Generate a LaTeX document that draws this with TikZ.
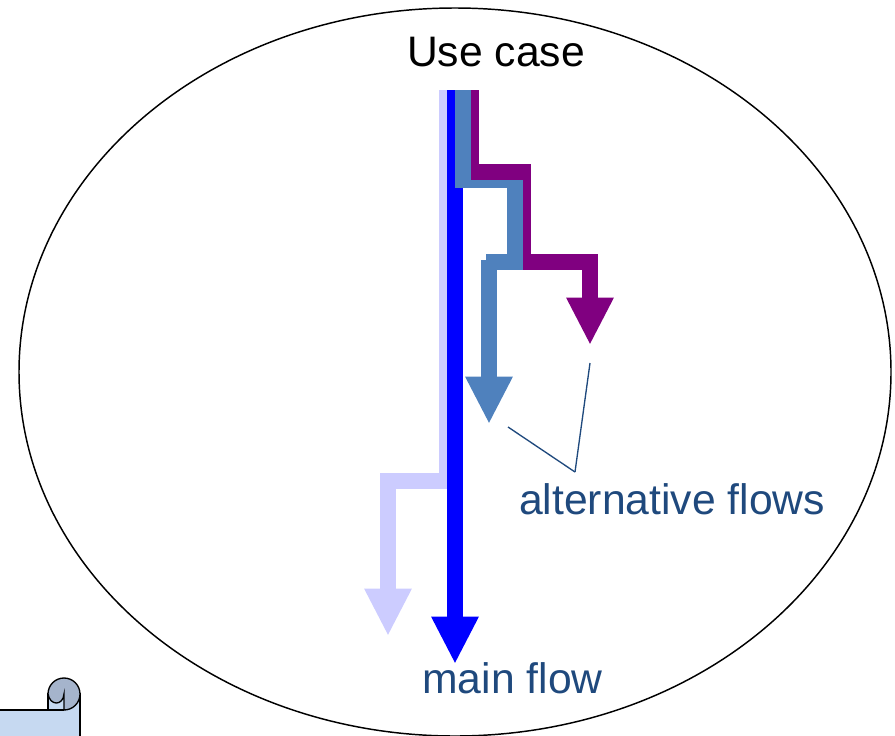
\documentclass[tikz,border=0pt]{standalone}
\usepackage{fontspec}
\setmainfont{Liberation Sans}
\usetikzlibrary{arrows.meta,positioning,shapes.geometric}

\definecolor{flowlight}{HTML}{CCCCFF}
\definecolor{flowsteel}{HTML}{4F81BD}
\definecolor{flowpurple}{HTML}{800080}
\definecolor{labelblue}{HTML}{1F497D}
\definecolor{scrollbody}{HTML}{C6D9F1}
\definecolor{scrollroll}{HTML}{A5B4CC}

\begin{document}
\begin{tikzpicture}[x=0.75pt,y=-0.75pt,
    flow/.style={line width=12pt,-{Triangle[length=35.5pt,width=33pt]}},
    flowpart/.style={line width=12pt},
    caption/.style={font=\fontsize{32}{36}\selectfont,inner sep=0pt},
    leader/.style={draw=labelblue,line width=1pt}]

\clip (0,0) rectangle (895,735);

% Use case
\node[draw,ellipse,line width=1.1pt,minimum width=654pt,minimum height=546pt,inner sep=0pt,
    ] (usecase) at (455,372) {};
\node[caption,black] (title) at (496,52) {Use case};

% Flows
\coordinate (start_light) at (447,90);
\coordinate (start_main) at (455,90);
\coordinate (start_steel) at (463,90);
\coordinate (start_purple) at (471,90);
\coordinate (tip_light) at (388,636);
\coordinate (tip_main) at (455,664);
\coordinate (tip_steel) at (489,424);
\coordinate (tip_purple) at (590,345);

\draw[flow,flowlight] (start_light) |- (388,481) -- (tip_light);
\draw[flow,blue] (start_main) -- (tip_main);
\draw[flow,flowpurple] (start_purple) |- (523,171.75) |- (590,262) -- (tip_purple);
\draw[flowpart,flowsteel] (start_steel) |- (515,180) |- (486,262);
\draw[flow,flowsteel] (489,260) -- (tip_steel);
\draw[flowpart,flowpurple] (471,171.75) -- (523,171.75);

% Labels
\node[caption,labelblue] (alt) at (672,499) {alternative flows};
\node[caption,labelblue] (main) at (512.5,678) {main flow};
\coordinate (alt_join) at (575,472);
\coordinate (steel_end) at (508,427);
\coordinate (purple_end) at (590,363);
\draw[leader] (steel_end) -- (alt_join);
\draw[leader] (purple_end) -- (alt_join);

% Scroll
\draw[line width=1pt,fill=scrollbody] (-10,710) -- (48,710) -- (48,694) -- (80,694) -- (80,745) -- (-10,745) -- cycle;
\draw[line width=1pt] (48,710) -- (64,710);
\draw[line width=1pt,fill=scrollroll] (48,694) arc[start angle=180,end angle=450,radius=16]
    -- (64,694) .. controls (63,706) and (50,706) .. (48,694) -- cycle;
\end{tikzpicture}
\end{document}
